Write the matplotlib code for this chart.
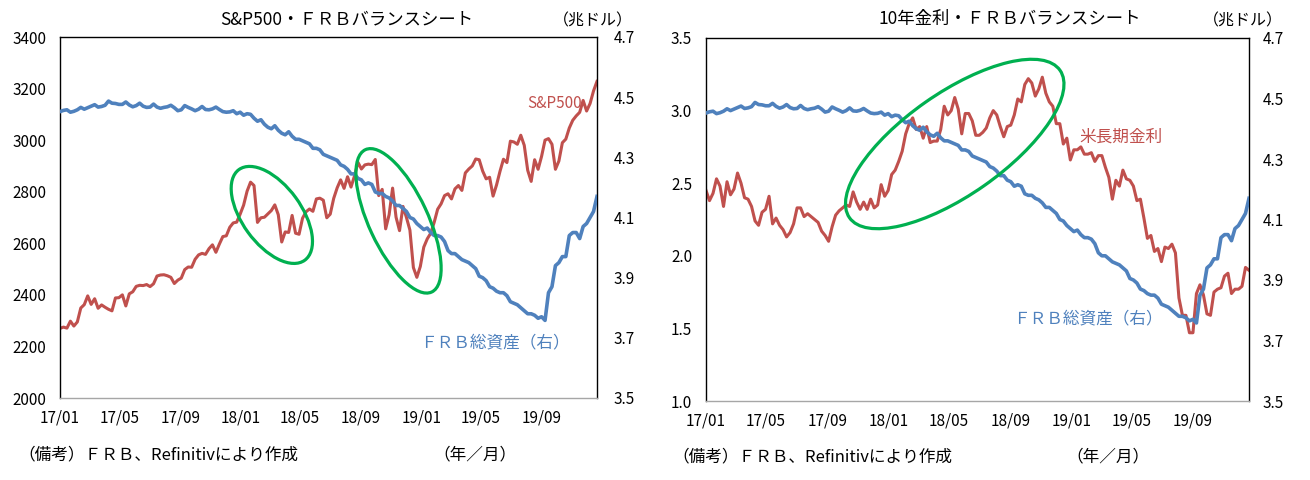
import numpy as np
import pandas as pd
import matplotlib
matplotlib.use('Agg')
import matplotlib.pyplot as plt
import matplotlib.dates as mdates
from matplotlib.patches import Ellipse
from matplotlib.transforms import IdentityTransform

plt.rcParams['font.family'] = ['Noto Sans CJK JP', 'DejaVu Sans']

# weekly (Wednesday) observations, 2017/01 - 2019/12
weeks = pd.date_range('2017-01-04', '2019-12-25', freq='W-WED')

# S&P500 (pt)
sp500 = [
    2270, 2275, 2271, 2298, 2279, 2295, 2349, 2362, 2396, 2363, 2385, 2348, 2361,
    2352, 2344, 2338, 2388, 2389, 2400, 2357, 2404, 2412, 2433, 2437, 2436, 2440,
    2432, 2443, 2473, 2477, 2478, 2474, 2468, 2444, 2457, 2465, 2498, 2508, 2507,
    2538, 2555, 2561, 2557, 2579, 2594, 2565, 2597, 2626, 2629, 2662, 2679, 2682,
    # 2018
    2713, 2748, 2802, 2837, 2824, 2681, 2699, 2701, 2714, 2727, 2749, 2711, 2605,
    2644, 2642, 2708, 2639, 2635, 2697, 2722, 2733, 2724, 2772, 2775, 2767, 2699,
    2713, 2774, 2815, 2846, 2813, 2858, 2818, 2861, 2914, 2888, 2904, 2907, 2905,
    2925, 2785, 2809, 2656, 2711, 2814, 2701, 2649, 2743, 2700, 2651, 2506, 2468,
    # 2019
    2510, 2585, 2617, 2639, 2681, 2732, 2753, 2785, 2792, 2772, 2811, 2824, 2805,
    2873, 2888, 2900, 2927, 2924, 2880, 2850, 2856, 2783, 2826, 2879, 2926, 2913,
    2996, 2993, 2984, 3019, 2980, 2883, 2840, 2924, 2887, 2937, 3000, 3006, 2984,
    2887, 2919, 2990, 3004, 3047, 3077, 3094, 3108, 3154, 3113, 3142, 3191, 3228,
]

# US 10y treasury yield (%)
ust10y = [
    2.45, 2.38, 2.43, 2.53, 2.48, 2.34, 2.51, 2.42, 2.46, 2.57, 2.50, 2.40, 2.39,
    2.34, 2.24, 2.21, 2.30, 2.32, 2.41, 2.22, 2.26, 2.21, 2.18, 2.13, 2.16, 2.22,
    2.33, 2.33, 2.27, 2.29, 2.27, 2.25, 2.23, 2.17, 2.14, 2.10, 2.20, 2.28, 2.31,
    2.33, 2.35, 2.34, 2.44, 2.37, 2.32, 2.37, 2.32, 2.39, 2.33, 2.35, 2.49, 2.41,
    # 2018
    2.45, 2.56, 2.59, 2.65, 2.72, 2.84, 2.91, 2.95, 2.87, 2.89, 2.81, 2.89, 2.78,
    2.79, 2.79, 2.87, 3.03, 2.97, 3.00, 3.09, 3.01, 2.84, 2.98, 2.98, 2.93, 2.83,
    2.83, 2.85, 2.88, 2.95, 3.00, 2.97, 2.89, 2.82, 2.89, 2.90, 2.97, 3.08, 3.06,
    3.18, 3.22, 3.19, 3.10, 3.15, 3.23, 3.12, 3.06, 3.03, 2.91, 2.91, 2.77, 2.81,
    # 2019
    2.66, 2.73, 2.73, 2.75, 2.70, 2.70, 2.71, 2.65, 2.69, 2.69, 2.61, 2.54, 2.39,
    2.52, 2.48, 2.59, 2.53, 2.52, 2.48, 2.38, 2.39, 2.26, 2.12, 2.14, 2.03, 2.05,
    1.96, 2.06, 2.05, 2.08, 2.02, 1.71, 1.59, 1.59, 1.47, 1.47, 1.74, 1.80, 1.73,
    1.60, 1.59, 1.75, 1.77, 1.78, 1.86, 1.88, 1.74, 1.77, 1.77, 1.79, 1.92, 1.90,
]

# FRB total assets (trillion USD)
frb_assets = [
    4.452, 4.456, 4.458, 4.450, 4.453, 4.458, 4.466, 4.460, 4.465, 4.470, 4.475, 4.467, 4.469,
    4.473, 4.487, 4.480, 4.479, 4.476, 4.476, 4.484, 4.474, 4.468, 4.472, 4.480, 4.470, 4.466,
    4.467, 4.477, 4.467, 4.463, 4.466, 4.468, 4.473, 4.465, 4.455, 4.458, 4.472, 4.466, 4.461,
    4.455, 4.460, 4.469, 4.459, 4.458, 4.461, 4.467, 4.459, 4.452, 4.450, 4.451, 4.455, 4.445,
    # 2018
    4.450, 4.440, 4.445, 4.443, 4.430, 4.420, 4.425, 4.410, 4.400, 4.395, 4.405, 4.390, 4.380,
    4.375, 4.385, 4.370, 4.360, 4.360, 4.355, 4.350, 4.345, 4.330, 4.330, 4.325, 4.310, 4.305,
    4.300, 4.295, 4.290, 4.275, 4.270, 4.260, 4.245, 4.245, 4.230, 4.225, 4.210, 4.215, 4.210,
    4.185, 4.180, 4.180, 4.170, 4.165, 4.155, 4.140, 4.140, 4.130, 4.120, 4.100, 4.095, 4.080,
    # 2019
    4.070, 4.060, 4.065, 4.050, 4.040, 4.040, 4.035, 4.020, 3.990, 3.980, 3.980, 3.970, 3.960,
    3.955, 3.950, 3.940, 3.930, 3.905, 3.900, 3.890, 3.870, 3.865, 3.855, 3.850, 3.850, 3.840,
    3.820, 3.815, 3.810, 3.800, 3.790, 3.780, 3.780, 3.775, 3.765, 3.770, 3.758, 3.850, 3.870,
    3.940, 3.950, 3.970, 3.970, 4.040, 4.050, 4.050, 4.030, 4.070, 4.080, 4.100, 4.120, 4.170,
]

xtick_dates = [weeks[0] + pd.DateOffset(months=4 * i) for i in range(9)]
xtick_labels = [d.strftime('%y/%m') for d in xtick_dates]

RED = '#c0504d'
BLUE = '#4f81bd'
GREEN = '#00b050'

fig = plt.figure(figsize=(13.1, 4.8), dpi=100)
fig.patch.set_facecolor('white')


def setup_panel(rect, left_ticks, left_fmt, left_pad, right_pad):
    ax = fig.add_axes(rect)
    axr = ax.twinx()
    ax.set_xlim(weeks[0], weeks[-1])
    ax.set_xticks(xtick_dates)
    ax.set_xticklabels(xtick_labels)
    ax.set_ylim(left_ticks[0], left_ticks[-1])
    ax.set_yticks(left_ticks)
    ax.set_yticklabels([left_fmt.format(v) for v in left_ticks])
    r_ticks = [3.5, 3.7, 3.9, 4.1, 4.3, 4.5, 4.7]
    axr.set_ylim(3.5, 4.7)
    axr.set_yticks(r_ticks)
    axr.set_yticklabels(['{:.1f}'.format(v) for v in r_ticks])
    ax.tick_params(axis='y', length=0, pad=left_pad, labelsize=11)
    ax.tick_params(axis='x', length=0, pad=8, labelsize=11)
    axr.tick_params(axis='y', length=0, pad=right_pad, labelsize=11)
    for s in ['left', 'top', 'right']:
        ax.spines[s].set_color('black')
        ax.spines[s].set_linewidth(1.0)
    ax.spines['bottom'].set_color('#a6a6a6')
    ax.spines['bottom'].set_linewidth(1.0)
    for s in axr.spines.values():
        s.set_visible(False)
    return ax, axr


def add_ring(ax, date, value, w, h, angle):
    cx, cy = ax.transData.transform((mdates.date2num(date), value))
    ring = Ellipse((cx, cy), w, h, angle=angle, fill=False,
                   edgecolor=GREEN, linewidth=2.3, transform=IdentityTransform())
    fig.add_artist(ring)


# left panel: S&P500 vs FRB
ax1, ax1r = setup_panel([60 / 1310, 82 / 480, 537 / 1310, 361 / 480],
                        list(range(2000, 3401, 200)), '{:d}', 10, 12)
ax1.plot(weeks, sp500, color=RED, lw=2.2)
ax1r.plot(weeks, frb_assets, color=BLUE, lw=2.6)
ax1.text(pd.Timestamp('2019-11-24'), 3144, 'S&P500', color=RED, fontsize=11,
         ha='right', va='center')
ax1.text(pd.Timestamp('2019-06-01'), 2213, 'ＦＲＢ総資産（右）', color=BLUE, fontsize=12,
         ha='center', va='center')

# right panel: 10y yield vs FRB
ax2, ax2r = setup_panel([706 / 1310, 79 / 480, 543 / 1310, 363 / 480],
                        [1.0, 1.5, 2.0, 2.5, 3.0, 3.5], '{:.1f}', 10, 10)
ax2.plot(weeks, ust10y, color=RED, lw=2.2)
ax2r.plot(weeks, frb_assets, color=BLUE, lw=2.6)
ax2.text(pd.Timestamp('2019-01-20'), 2.82, '米長期金利', color=RED, fontsize=12,
         ha='left', va='center')
ax2.text(pd.Timestamp('2019-02-05'), 1.565, 'ＦＲＢ総資産（右）', color=BLUE, fontsize=12,
         ha='center', va='center')

# green highlight rings
add_ring(ax1, pd.Timestamp('2018-03-08'), 2710, 112, 59, -54)
add_ring(ax1, pd.Timestamp('2018-11-19'), 2687, 157, 59, -65)
add_ring(ax2, pd.Timestamp('2018-05-16'), 2.77, 257, 102, 35)

# titles, units, notes
fig.text(347 / 1310, 1 - 19 / 480, 'S&P500・ＦＲＢバランスシート', fontsize=12.5,
         ha='center', va='center')
fig.text(1010 / 1310, 1 - 19 / 480, '10年金利・ＦＲＢバランスシート', fontsize=12.5,
         ha='center', va='center')
fig.text(593 / 1310, 1 - 21 / 480, '（兆ドル）', fontsize=11.5, ha='center', va='center')
fig.text(1243 / 1310, 1 - 21 / 480, '（兆ドル）', fontsize=11.5, ha='center', va='center')
fig.text(18 / 1310, 1 - 455 / 480, '（備考）ＦＲＢ、Refinitivにより作成', fontsize=12,
         ha='left', va='center')
fig.text(475 / 1310, 1 - 455 / 480, '（年／月）', fontsize=12, ha='center', va='center')
fig.text(672 / 1310, 1 - 457 / 480, '（備考）ＦＲＢ、Refinitivにより作成', fontsize=12,
         ha='left', va='center')
fig.text(1108 / 1310, 1 - 457 / 480, '（年／月）', fontsize=12, ha='center', va='center')

fig.savefig('out.png', dpi=100)
